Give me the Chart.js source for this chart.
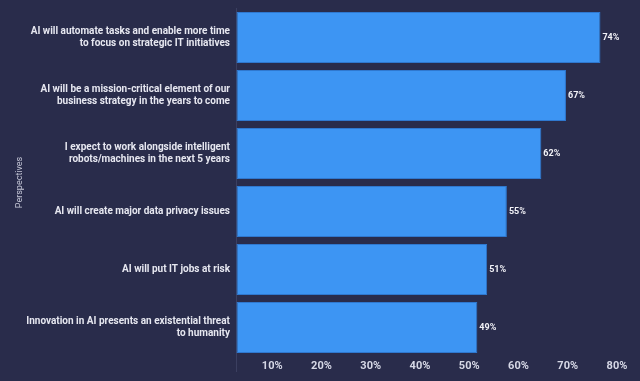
<!DOCTYPE html>
<html>
<head>
<meta charset="utf-8">
<script src="https://cdn.jsdelivr.net/npm/chart.js@4"></script>
<style>
  html, body { margin: 0; padding: 0; background: #292c4b; }
  #wrap { width: 640px; height: 381px; position: relative; }
</style>
</head>
<body>
<div id="wrap"><canvas id="chart"></canvas></div>
<script>
const perspectives = [
    ['AI will automate tasks and enable more time', 'to focus on strategic IT initiatives'],
    ['AI will be a mission-critical element of our', 'business strategy in the years to come'],
    ['I expect to work alongside intelligent', 'robots/machines in the next 5 years'],
    'AI will create major data privacy issues',
    'AI will put IT jobs at risk',
    ['Innovation in AI presents an existential threat', 'to humanity']
];
const shares = [74, 67, 62, 55, 51, 49];
const xTicks = [0, 10, 20, 30, 40, 50, 60, 70, 80];

const textColor = '#e6e7f0';
const axisColor = '#3b3f60';

// draw the "74%" labels at the end of each bar
const valueLabels = {
    id: 'valueLabels',
    afterDatasetsDraw(chart) {
        const ctx = chart.ctx;
        const meta = chart.getDatasetMeta(0);
        ctx.save();
        ctx.font = 'bold 9px Roboto';
        ctx.fillStyle = '#f2f2f7';
        ctx.textAlign = 'left';
        ctx.textBaseline = 'middle';
        meta.data.forEach((bar, i) => {
            ctx.fillText(shares[i] + '%', bar.x + 2, bar.y);
        });
        ctx.restore();
    }
};

new Chart(document.getElementById('chart'), {
    type: 'bar',
    data: {
        labels: perspectives,
        datasets: [{
            data: shares,
            backgroundColor: '#3d95f3',
            borderColor: '#2f78cf',
            borderWidth: 1,
            borderSkipped: false,
            categoryPercentage: 1,
            barPercentage: 0.88
        }]
    },
    options: {
        indexAxis: 'y',
        responsive: true,
        maintainAspectRatio: false,
        animation: false,
        layout: { padding: { top: 8.5, right: 10, left: 0, bottom: 0 } },
        plugins: {
            legend: { display: false },
            tooltip: { enabled: false }
        },
        scales: {
            x: {
                min: 0,
                max: 80,
                afterBuildTicks: (scale) => { scale.ticks = xTicks.map(v => ({ value: v })); },
                afterFit: (scale) => {
                    scale.height = 24.5;
                    scale.paddingLeft = 0;
                    scale.paddingRight = 0;
                },
                border: { display: false },
                grid: {
                    drawOnChartArea: false,
                    drawTicks: true,
                    tickLength: 15.5,
                    color: (c) => c.tick && c.tick.value === 0 ? axisColor : 'transparent'
                },
                ticks: {
                    padding: -12,
                    labelOffset: -13,
                    color: '#d6d8e6',
                    font: { family: 'Roboto', size: 11, weight: 'bold' },
                    callback: (v) => v === 0 ? '' : v + '%'
                }
            },
            y: {
                afterFit: (scale) => {
                    scale.width = 236;
                    scale.paddingTop = 0;
                    scale.paddingBottom = 0;
                },
                border: { display: true, color: axisColor, width: 1 },
                grid: { display: false, drawTicks: false },
                ticks: {
                    padding: 6,
                    color: textColor,
                    font: { family: 'Roboto', size: 10, weight: 'bold', lineHeight: 1.2 }
                },
                title: {
                    display: true,
                    text: 'Perspectives',
                    color: '#c4c6d6',
                    font: { family: 'Roboto', size: 9 },
                    padding: { top: 14, bottom: 0 }
                }
            }
        }
    },
    plugins: [valueLabels]
});
</script>
</body>
</html>
